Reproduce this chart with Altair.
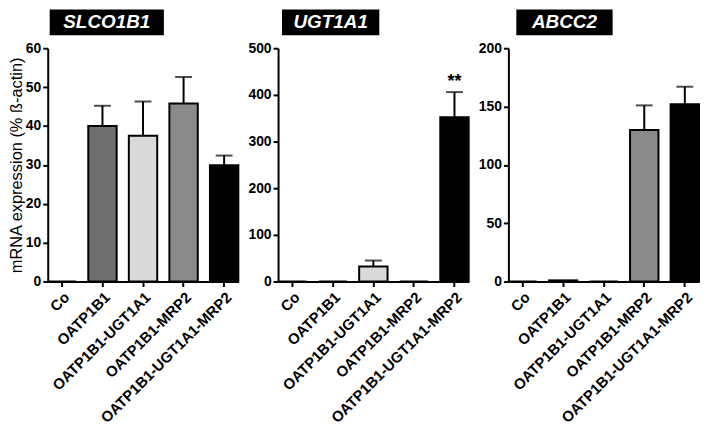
import altair as alt
import pandas as pd

categories = ["Co", "OATP1B1", "OATP1B1-UGT1A1", "OATP1B1-MRP2", "OATP1B1-UGT1A1-MRP2"]
bar_colors = ["#ffffff", "#6e6e6e", "#d9d9d9", "#8a8a8a", "#000000"]

genes = ["SLCO1B1", "UGT1A1", "ABCC2"]
slco1b1_mean = [0, 40.0, 37.5, 45.8, 29.9]
slco1b1_err = [0, 5.2, 8.8, 6.8, 2.5]
ugt1a1_mean = [0, 0, 32, 0, 352]
ugt1a1_err = [0, 0, 13, 0, 54]
abcc2_mean = [0, 1, 0, 130, 152]
abcc2_err = [0, 0, 0, 21, 15]
signif_ugt1a1 = ["", "", "", "", "**"]

y_max = [60, 500, 200]
y_step = [10, 100, 50]
box_x = [(2, 117), (4, 102), (8, 105)]

means = [slco1b1_mean, ugt1a1_mean, abcc2_mean]
errs = [slco1b1_err, ugt1a1_err, abcc2_err]
sigs = [["", "", "", "", ""], signif_ugt1a1, ["", "", "", "", ""]]

FONT = "Liberation Sans"
W, H = 192, 235

panels = []
for i, g in enumerate(genes):
    df = pd.DataFrame({
        "cat": categories,
        "value": means[i],
        "upper": [m + e for m, e in zip(means[i], errs[i])],
        "sig": sigs[i],
    })
    xenc = alt.X("cat:N", sort=categories, title=None,
                 scale=alt.Scale(paddingInner=0.3, paddingOuter=0.0),
                 axis=alt.Axis(labelAngle=-45, labelFont=FONT, labelFontSize=15,
                               labelFontWeight="bold", labelColor="black", labelLimit=300,
                               labelOverlap=False,
                               domainColor="black", domainWidth=2, tickColor="black",
                               tickWidth=2, tickSize=5, labelPadding=3))
    yaxis = alt.Axis(values=list(range(0, y_max[i] + 1, y_step[i])), grid=False,
                     labelOverlap=False,
                     labelFont=FONT, labelFontSize=14, labelFontWeight="bold",
                     labelColor="black", domainColor="black", domainWidth=2,
                     tickColor="black", tickWidth=2, tickSize=5, labelPadding=2,
                     titleFont=FONT, titleFontSize=16.5, titleFontWeight="normal",
                     titleColor="black", titlePadding=1)
    ytitle = "mRNA expression (% ß-actin)" if i == 0 else None
    yscale = alt.Scale(domain=[0, y_max[i]], nice=False)

    def yenc(field):
        return alt.Y(field, scale=yscale, axis=yaxis, title=ytitle)

    base = alt.Chart(df)
    err_df = base.transform_filter("datum.upper > datum.value")
    rule = err_df.mark_rule(color="black", strokeWidth=2).encode(
        x=xenc, y=yenc("value:Q"), y2="upper:Q")
    bars = base.mark_bar(stroke="black", strokeWidth=2).encode(
        x=xenc, y=yenc("value:Q"),
        color=alt.Color("cat:N", scale=alt.Scale(domain=categories, range=bar_colors), legend=None))
    cap = err_df.mark_tick(color="black", thickness=2, size=17).encode(
        x=xenc, y=yenc("upper:Q"))
    star = base.transform_filter("datum.sig != ''").mark_text(
        font=FONT, fontSize=18, fontWeight="bold", color="black", dy=-1, baseline="bottom").encode(
        x=xenc, y=yenc("upper:Q"), text="sig:N")
    box = alt.Chart(pd.DataFrame({"g": [g]})).mark_rect(color="black").encode(
        x=alt.value(box_x[i][0]), x2=alt.value(box_x[i][1]),
        y=alt.value(-39), y2=alt.value(-13))
    label = alt.Chart(pd.DataFrame({"g": [g]})).mark_text(
        font=FONT, fontSize=19, fontWeight="bold", fontStyle="italic", color="white",
        baseline="middle", align="center").encode(
        x=alt.value((box_x[i][0] + box_x[i][1]) / 2), y=alt.value(-26), text="g:N")
    layer = alt.layer(rule, bars, cap, star, box, label).properties(width=W, height=H)
    panels.append(layer)

chart = (alt.hconcat(*panels, spacing=8).properties(padding=0)
         .configure_view(stroke=None)
         .configure_axis(labelOverlap=False))
chart.save("out.html", embed_options={"renderer": "svg", "actions": False})
